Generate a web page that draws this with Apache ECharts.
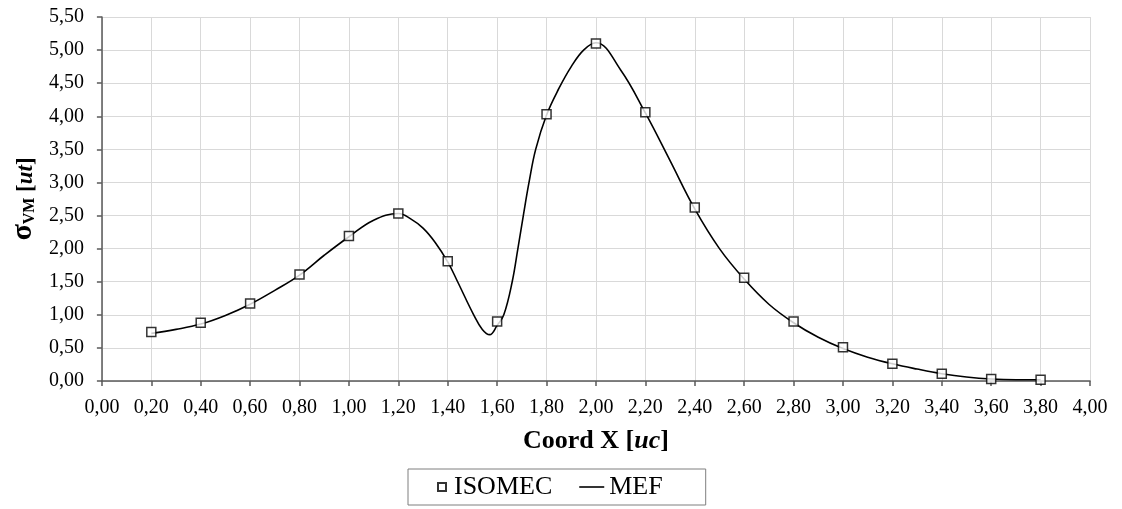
<!DOCTYPE html>
<html>
<head>
<meta charset="utf-8">
<script src="https://cdn.jsdelivr.net/npm/echarts@6/dist/echarts.min.js"></script>
<style>html,body{margin:0;padding:0;background:#fff}#c{width:1122px;height:509px}</style>
</head>
<body>
<div id="c"></div>
<script>
// ISOMEC points
const isoX = [0.2,0.4,0.6,0.8,1.0,1.2,1.4,1.6,1.8,2.0,2.2,2.4,2.6,2.8,3.0,3.2,3.4,3.6,3.8];
const isoY = [0.74,0.88,1.17,1.61,2.19,2.53,1.81,0.90,4.03,5.10,4.06,2.62,1.56,0.90,0.51,0.26,0.11,0.03,0.02];
// MEF curve
const mefX = [0.2,0.3,0.4,0.5,0.6,0.7,0.8,0.9,1.0,1.1,1.2,1.25,1.3,1.35,1.4,1.44,1.505,1.54,1.57,1.6,1.627,1.661,1.684,1.706,1.729,1.756,1.8,1.85,1.9,1.95,2.0,2.1,2.2,2.3,2.4,2.5,2.6,2.7,2.8,2.9,3.0,3.1,3.2,3.3,3.4,3.5,3.6,3.7,3.8];
const mefY = [0.72,0.78,0.86,0.99,1.16,1.37,1.60,1.90,2.18,2.43,2.53,2.45,2.31,2.09,1.80,1.50,1.00,0.78,0.70,0.84,1.00,1.50,2.00,2.50,3.00,3.50,4.02,4.42,4.75,5.00,5.11,4.70,4.05,3.33,2.60,2.00,1.54,1.16,0.88,0.66,0.49,0.36,0.26,0.18,0.11,0.06,0.03,0.02,0.02];
const seriesNames = ['ISOMEC','MEF'];

const fmt = v => v.toFixed(2).replace('.', ',');
const font = 'Liberation Serif';
const chart = echarts.init(document.getElementById('c'));
chart.setOption({
  animation: false,
  textStyle: {fontFamily: font},
  grid: {left: 100, right: 32, top: 17, bottom: 128},
  xAxis: {
    type: 'value', min: 0, max: 4, interval: 0.2,
    axisLine: {lineStyle: {color: '#595959', width: 1.5}},
    axisTick: {show: true, length: 5, lineStyle: {color: '#595959', width: 1.5}},
    axisLabel: {formatter: fmt, color: '#000', fontSize: 20, fontFamily: font, margin: 17},
    splitLine: {show: true, lineStyle: {color: '#d9d9d9', width: 1}},
    name: '{b|Coord X [}{bi|uc}{b|]}',
    nameLocation: 'middle', nameGap: 47,
    nameTextStyle: {rich: {
      b: {fontFamily: font, fontWeight: 'bold', fontSize: 26, color: '#000'},
      bi: {fontFamily: font, fontWeight: 'bold', fontStyle: 'italic', fontSize: 26, color: '#000'}
    }}
  },
  yAxis: {
    type: 'value', min: 0, max: 5.5, interval: 0.5,
    axisLine: {show: true, lineStyle: {color: '#595959', width: 1.5}},
    axisTick: {show: true, length: 5, lineStyle: {color: '#595959', width: 1.5}},
    axisLabel: {formatter: fmt, color: '#000', fontSize: 20, fontFamily: font, margin: 18},
    splitLine: {show: true, lineStyle: {color: '#d9d9d9', width: 1}},
    name: '{s|σ}{sub|VM}{b| [}{bi|ut}{b|]}',
    nameLocation: 'middle', nameGap: 63, nameRotate: 90,
    nameTextStyle: {rich: {
      s: {fontFamily: font, fontWeight: 'bold', fontSize: 30, color: '#000', verticalAlign: 'bottom', lineHeight: 30},
      sub: {fontFamily: font, fontWeight: 'bold', fontSize: 16, color: '#000', verticalAlign: 'bottom', lineHeight: 22},
      b: {fontFamily: font, fontWeight: 'bold', fontSize: 23, color: '#000', verticalAlign: 'bottom', lineHeight: 30},
      bi: {fontFamily: font, fontWeight: 'bold', fontStyle: 'italic', fontSize: 23, color: '#000', verticalAlign: 'bottom', lineHeight: 30}
    }}
  },
  legend: {
    data: [
      {name: seriesNames[0], icon: 'path://M0,0M25,8M14,0L22,0L22,8L14,8Z'},
      {name: seriesNames[1], icon: 'path://M0,0M25,8M0,3.2L25,3.2L25,4.8L0,4.8Z'}
    ],
    top: 469, left: 408,
    borderColor: '#7f7f7f', borderWidth: 1, borderRadius: 0,
    padding: [5, 43, 5, 15],
    itemGap: 27, itemWidth: 25, itemHeight: 8,
    textStyle: {fontFamily: font, fontSize: 26, color: '#000'}
  },
  series: [
    {
      name: seriesNames[0], type: 'scatter', z: 5,
      symbol: 'rect', symbolSize: 9, symbolKeepAspect: true,
      itemStyle: {color: '#fff', borderColor: '#000', borderWidth: 1.5},
      data: isoX.map((x, i) => [x, isoY[i]])
    },
    {
      name: seriesNames[1], type: 'line', smooth: 0.4, symbol: 'none', z: 3,
      lineStyle: {color: '#000', width: 1.6},
      itemStyle: {color: '#000'},
      data: mefX.map((x, i) => [x, mefY[i]])
    }
  ]
});
</script>
</body>
</html>
